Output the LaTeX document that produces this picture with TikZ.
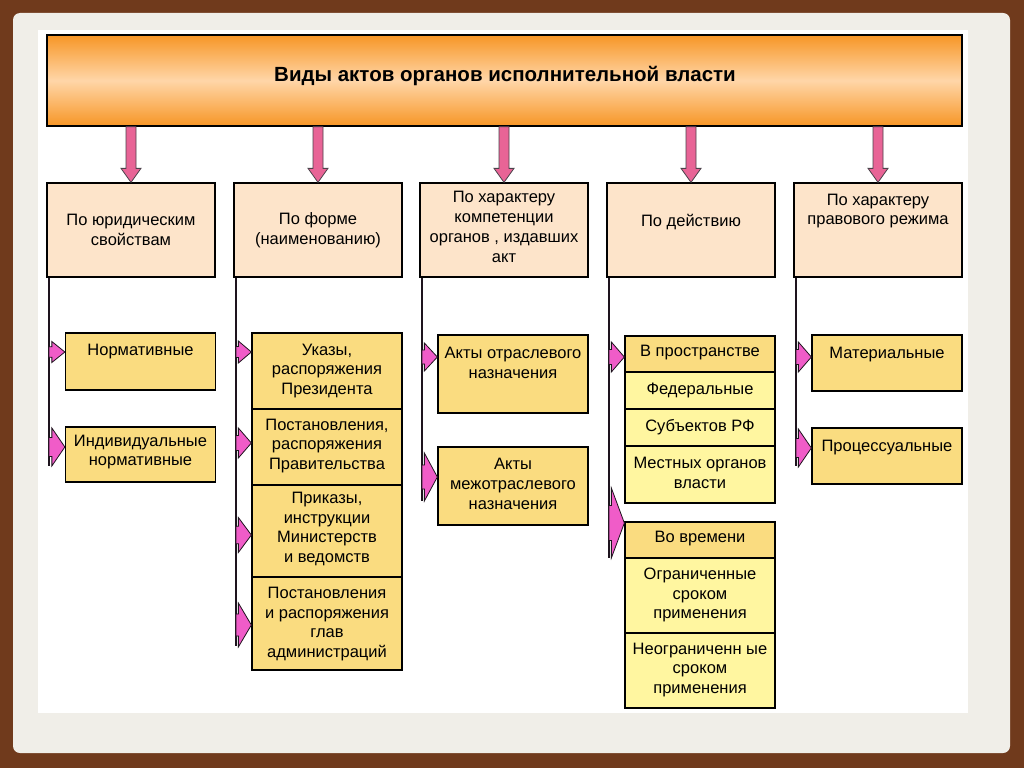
\documentclass[tikz,border=0pt]{standalone}
\usepackage{fontspec}
\setmainfont{Liberation Sans}
\usetikzlibrary{calc}
\definecolor{framebrown}{RGB}{112,58,28}
\definecolor{cream}{RGB}{240,238,232}
\definecolor{peach}{RGB}{253,228,202}
\definecolor{gold}{RGB}{250,220,128}
\definecolor{lyellow}{RGB}{255,246,160}
\definecolor{tpink}{RGB}{232,100,150}
\definecolor{spink}{RGB}{240,92,200}
\definecolor{orangeT}{RGB}{247,150,38}
\definecolor{orangeM}{RGB}{255,214,168}
\definecolor{darkline}{RGB}{30,20,30}
\tikzset{
  titlebox/.style={draw=black, line width=1.3pt, top color=orangeT, bottom color=orangeT, middle color=orangeM, inner sep=0pt},
  titletxt/.style={inner sep=0pt, font=\fontsize{20.5}{24}\selectfont\bfseries},
  catbox/.style={draw=black, line width=1.3pt, fill=peach, minimum width=168pt, minimum height=94pt, inner sep=0pt},
  goldbox/.style={draw=black, line width=1.3pt, fill=gold, minimum width=150pt, inner sep=0pt},
  ybox/.style={draw=black, line width=1.3pt, fill=lyellow, minimum width=150pt, inner sep=0pt},
  txt/.style={align=center, inner sep=0pt, font=\fontsize{16.5}{19.8}\selectfont},
  tarr/.style={draw=darkline!80, line width=0.8pt, fill=tpink, line join=miter},
  sarr/.style={draw=darkline, line width=0.8pt, fill=spink, line join=miter},
  vline/.style={draw=darkline, line width=2.5pt},
}
\newcommand\toparrow[1]{%
  \draw[tarr] ($(title.south -| #1.north)+(-5,0)$) -- ($(#1.north)+(-5,-14)$) -- ($(#1.north)+(-10,-14)$) -- (#1.north) -- ($(#1.north)+(10,-14)$) -- ($(#1.north)+(5,-14)$) -- ($(title.south -| #1.north)+(5,0)$) -- cycle;}
\newcommand\sidearrow[4]{%
  \path (#2.west |- 0,#3) coordinate (tipc) (#1 |- 0,#3) coordinate (basec);
  \draw[sarr] ($(basec)+(0,{-#4*0.25})$) -- ($(tipc)+(-13,{-#4*0.25})$) -- ($(tipc)+(-13,{-#4*0.5})$) -- (tipc) -- ($(tipc)+(-13,{#4*0.5})$) -- ($(tipc)+(-13,{#4*0.25})$) -- ($(basec)+(0,{#4*0.25})$) -- cycle;}
\begin{document}
\begin{tikzpicture}[x=1pt,y=-1pt]
\useasboundingbox (0,0) rectangle (1024,768);
\fill[framebrown] (0,0) rectangle (1024,768);
\fill[cream, rounded corners=7pt] (13,13) rectangle (1010,753);
\fill[white] (38,30) rectangle (968,713);

\node[titlebox, minimum width=915pt, minimum height=91pt] (title) at (504.5,80.5) {};
\node[titletxt] (titlet) at (505,76) {Виды актов органов исполнительной власти};

% category boxes
\node[catbox] (b1) at (131,230) {};
\node[catbox] (b2) at (318,230) {};
\node[catbox] (b3) at (504,230) {};
\node[catbox] (b4) at (691,230) {};
\node[catbox] (b5) at (878,230) {};
\node[txt] (b1t) at (131,230) {По юридическим\\свойствам};
\node[txt] (b2t) at (318,230) {По форме\\(наименованию)};
\node[txt] (b3t) at (504,227) {По характеру\\компетенции\\органов , издавших\\акт};
\node[txt] (b4t) at (691,222) {По действию};
\node[txt] (b5t) at (878,211) {По характеру\\правового режима};

\toparrow{b1}
\toparrow{b2}
\toparrow{b3}
\toparrow{b4}
\toparrow{b5}

% column 1
\node[goldbox, minimum height=57pt] (c1a) at (140.5,361.5) {};
\node[txt] (c1at) at (140.5,352) {Нормативные};
\node[goldbox, minimum height=55pt] (c1b) at (140.5,454.5) {};
\node[txt] (c1bt) at (140.5,452) {Индивидуальные\\нормативные};

% column 2
\node[goldbox, minimum height=76pt] (c2a) at (327,371) {};
\node[goldbox, minimum height=76pt] (c2b) at (327,447) {};
\node[goldbox, minimum height=92pt] (c2c) at (327,531) {};
\node[goldbox, minimum height=93pt] (c2d) at (327,623.5) {};
\node[txt] (c2at) at (327,371) {Указы,\\распоряжения\\Президента};
\node[txt] (c2bt) at (327,446) {Постановления,\\распоряжения\\Правительства};
\node[txt] (c2ct) at (327,529) {Приказы,\\инструкции\\Министерств\\и ведомств};
\node[txt] (c2dt) at (327,624) {Постановления\\и распоряжения\\глав\\администраций};

% column 3
\node[goldbox, minimum height=78pt] (c3a) at (513,374) {};
\node[txt] (c3at) at (513,363) {Акты отраслевого\\назначения};
\node[goldbox, minimum height=78pt] (c3b) at (513,486) {};
\node[txt] (c3bt) at (513,484) {Акты\\межотраслевого\\назначения};

% column 4
\node[goldbox, minimum height=36pt] (c4p) at (700,354) {};
\node[ybox, minimum height=37pt] (c4f) at (700,390.5) {};
\node[ybox, minimum height=37pt] (c4s) at (700,427.5) {};
\node[ybox, minimum height=57pt] (c4m) at (700,474.5) {};
\node[txt] (c4pt) at (700,353) {В пространстве};
\node[txt] (c4ft) at (700,390) {Федеральные};
\node[txt] (c4st) at (700,427) {Субъектов РФ};
\node[txt] (c4mt) at (700,473) {Местных органов\\власти};
\node[goldbox, minimum height=36pt] (c4t) at (700,540) {};
\node[ybox, minimum height=75pt] (c4o) at (700,595.5) {};
\node[ybox, minimum height=75pt] (c4n) at (700,670.5) {};
\node[txt] (c4tt) at (700,539) {Во времени};
\node[txt] (c4ot) at (700,595) {Ограниченные\\сроком\\применения};
\node[txt] (c4nt) at (700,670) {Неограниченн ые\\сроком\\применения};

% column 5
\node[goldbox, minimum height=56pt] (c5a) at (887,363) {};
\node[txt] (c5at) at (887,355) {Материальные};
\node[goldbox, minimum height=56pt] (c5b) at (887,456) {};
\node[txt] (c5bt) at (887,448) {Процессуальные};

% vertical lines
\coordinate (l1) at ($(b1.south west)+(2.5,0)$);
\coordinate (l2) at ($(b2.south west)+(2.5,0)$);
\coordinate (l3) at ($(b3.south west)+(2.5,0)$);
\coordinate (l4) at ($(b4.south west)+(2.5,0)$);
\coordinate (l5) at ($(b5.south west)+(2.5,0)$);
\draw[vline] (l1) -- (l1 |- 0,466);
\draw[vline] (l2) -- (l2 |- 0,646);
\draw[vline] (l3) -- (l3 |- 0,501);
\draw[vline] (l4) -- (l4 |- 0,558);
\draw[vline] (l5) -- (l5 |- 0,466);

% side arrows
\sidearrow{l1}{c1a}{352}{21}
\sidearrow{l1}{c1b}{447}{38}
\sidearrow{l2}{c2a}{352}{22}
\sidearrow{l2}{c2b}{443}{30}
\sidearrow{l2}{c2c}{535}{35}
\sidearrow{l2}{c2d}{625}{44}
\sidearrow{l3}{c3a}{357}{28}
\sidearrow{l3}{c3b}{477}{48}
\sidearrow{l4}{c4p}{357}{30}
\sidearrow{l4}{c4t}{523}{70}
\sidearrow{l5}{c5a}{357}{30}
\sidearrow{l5}{c5b}{448}{38}
\end{tikzpicture}
\end{document}
